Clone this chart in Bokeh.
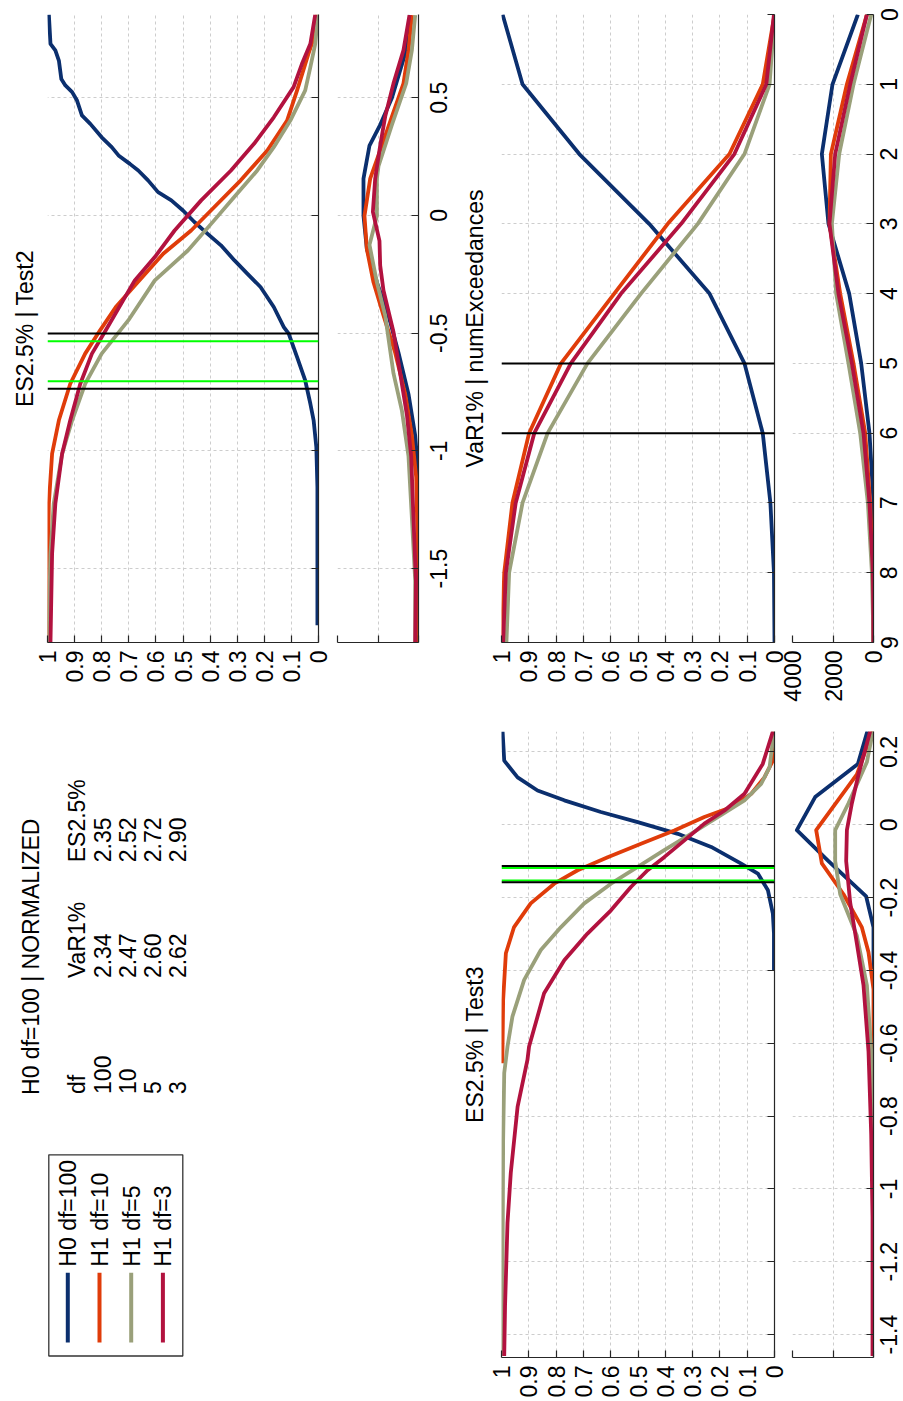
import math
from bokeh.plotting import figure
from bokeh.layouts import row, column
from bokeh.models import Range1d, FixedTicker, CustomJSTickFormatter, Span
from bokeh.embed import file_html
from bokeh.resources import INLINE
from bokeh.core.properties import value

FONT = "Liberation Sans"
FS = "23px"
AX = "#262626"
GRID = "#cdcdcd"
COLORS = ["#0b2f6e", "#e03c0a", "#9aa07a", "#b2123f"]
NAMES = ["H0 df=100", "H1 df=10", "H1 df=5", "H1 df=3"]

PROB_TICKS = [0, 0.1, 0.2, 0.3, 0.4, 0.5, 0.6, 0.7, 0.8, 0.9, 1]
CNT_TICKS = [0, 2000, 4000]
T2_TICKS = [-1.5, -1, -0.5, 0, 0.5]
VAR_TICKS = [0, 1, 2, 3, 4, 5, 6, 7, 8, 9]
T3_TICKS = [-1.4, -1.2, -1, -0.8, -0.6, -0.4, -0.2, 0, 0.2]

# ---------------- ES2.5% | Test2 : empirical CDF ----------------
T2_H0_STAT = [0.853, 0.729, 0.701, 0.658, 0.580, 0.552, 0.524, 0.488, 0.425, 0.389, 0.332, 0.290, 0.255, 0.219, 0.191, 0.149, 0.099, 0.064, 0.021, -0.028, -0.078, -0.127, -0.191, -0.248, -0.304, -0.389, -0.474, -0.502, -0.602, -0.701, -0.800, -0.870, -0.984, -1.154, -1.741]
T2_H0_PROB = [0.995, 0.989, 0.971, 0.958, 0.949, 0.934, 0.909, 0.891, 0.873, 0.842, 0.800, 0.763, 0.738, 0.696, 0.665, 0.629, 0.592, 0.543, 0.500, 0.458, 0.409, 0.360, 0.310, 0.262, 0.214, 0.165, 0.128, 0.110, 0.079, 0.049, 0.030, 0.018, 0.008, 0.004, 0.004]
T2_D10_STAT = [0.853, 0.771, 0.687, 0.531, 0.403, 0.276, 0.149, 0.021, -0.064, -0.163, -0.290, -0.389, -0.488, -0.587, -0.715, -0.870, -1.012, -1.224, -1.436, -1.814]
T2_D10_PROB = [0.006, 0.012, 0.037, 0.079, 0.116, 0.189, 0.287, 0.397, 0.470, 0.573, 0.672, 0.748, 0.806, 0.861, 0.916, 0.958, 0.983, 0.995, 0.998, 0.999]
T2_D5_STAT = [0.853, 0.729, 0.630, 0.531, 0.403, 0.290, 0.191, 0.078, -0.021, -0.149, -0.276, -0.446, -0.587, -0.715, -0.870, -1.012, -1.224, -1.436, -1.814]
T2_D5_PROB = [0.002, 0.012, 0.030, 0.049, 0.104, 0.165, 0.226, 0.311, 0.385, 0.482, 0.604, 0.702, 0.800, 0.861, 0.909, 0.946, 0.977, 0.989, 0.997]
T2_D3_STAT = [0.853, 0.729, 0.644, 0.545, 0.417, 0.304, 0.191, 0.064, -0.064, -0.177, -0.276, -0.488, -0.587, -0.715, -0.870, -1.012, -1.224, -1.436, -1.814]
T2_D3_PROB = [0.012, 0.030, 0.061, 0.092, 0.165, 0.238, 0.323, 0.433, 0.531, 0.604, 0.678, 0.785, 0.836, 0.879, 0.916, 0.946, 0.971, 0.983, 0.989]
T2_GREEN = [-0.534, -0.704]
T2_BLACK = [-0.502, -0.736]

# ---------------- ES2.5% | Test2 : histogram ----------------
T2H_H0_STAT = [0.851, 0.702, 0.499, 0.385, 0.297, 0.156, -0.002, -0.143, -0.284, -0.425, -0.583, -0.759, -0.935, -1.058, -1.199]
T2H_H0_CNT = [410, 608, 1314, 1892, 2420, 2717, 2717, 2550, 2055, 1482, 988, 494, 163, 50, 0]
T2H_D10_STAT = [0.851, 0.702, 0.561, 0.420, 0.297, 0.156, -0.002, -0.143, -0.284, -0.425, -0.583, -0.759, -0.935, -1.111, -1.375, -1.639, -1.814]
T2H_D10_CNT = [326, 494, 741, 1314, 1808, 2386, 2668, 2550, 2223, 1729, 1151, 657, 326, 114, 49, 49, 49]
T2H_D5_STAT = [0.851, 0.702, 0.561, 0.385, 0.209, 0.156, -0.002, -0.125, -0.284, -0.425, -0.671, -0.829, -1.023, -1.287, -1.551, -1.814]
T2H_D5_CNT = [163, 326, 608, 1314, 1976, 2055, 2055, 2420, 2055, 1645, 1235, 820, 494, 326, 163, 163]
T2H_D3_STAT = [0.851, 0.702, 0.561, 0.420, 0.297, 0.156, 0.015, -0.108, -0.213, -0.319, -0.495, -0.671, -0.847, -1.023, -1.287, -1.551, -1.814]
T2H_D3_CNT = [445, 741, 1235, 1645, 1892, 2139, 2253, 1927, 1892, 1729, 1235, 904, 573, 361, 247, 128, 163]

# ---------------- VaR1% | numExceedances ----------------
VAR_N = [0, 1, 2, 3, 4, 5, 6, 7, 8, 9]
VAR_H0_PROB = [0.996, 0.923, 0.715, 0.459, 0.238, 0.110, 0.043, 0.015, 0.002, 0.0]
VAR_D10_PROB = [0.0, 0.043, 0.165, 0.391, 0.587, 0.782, 0.899, 0.960, 0.990, 0.999]
VAR_D5_PROB = [0.0, 0.018, 0.110, 0.281, 0.489, 0.685, 0.831, 0.923, 0.972, 0.982]
VAR_D3_PROB = [0.002, 0.030, 0.147, 0.342, 0.562, 0.746, 0.880, 0.948, 0.984, 0.994]
VAR_H0_CNT = [772, 2025, 2550, 2223, 1200, 608, 198, 0, 0, 0]
VAR_D10_CNT = [326, 1314, 2104, 2174, 1645, 988, 410, 163, 30, 0]
VAR_D5_CNT = [114, 988, 1694, 2055, 1843, 1235, 657, 277, 79, 0]
VAR_D3_CNT = [326, 1151, 1892, 2174, 1729, 1067, 494, 198, 30, 0]
VAR_BLACK = [5, 6]

# ---------------- ES2.5% | Test3 : empirical CDF ----------------
T3_H0_STAT = [0.256, 0.176, 0.130, 0.094, 0.067, 0.035, 0.007, -0.025, -0.061, -0.107, -0.134, -0.180, -0.244, -0.299, -0.399]
T3_H0_PROB = [0.996, 0.990, 0.941, 0.868, 0.770, 0.636, 0.501, 0.354, 0.232, 0.122, 0.061, 0.024, 0.006, 0.002, 0.002]
T3_D10_STAT = [0.256, 0.176, 0.130, 0.085, 0.048, 0.021, -0.016, -0.052, -0.089, -0.125, -0.162, -0.216, -0.281, -0.353, -0.481, -0.655]
T3_D10_PROB = [0.000, 0.006, 0.037, 0.085, 0.159, 0.257, 0.367, 0.489, 0.611, 0.721, 0.807, 0.893, 0.954, 0.984, 0.994, 0.997]
T3_D5_STAT = [0.256, 0.158, 0.112, 0.067, 0.021, -0.025, -0.070, -0.116, -0.162, -0.216, -0.281, -0.344, -0.426, -0.527, -0.609, -0.682, -0.865, -1.230, -1.459]
T3_D5_PROB = [0.002, 0.018, 0.049, 0.110, 0.208, 0.306, 0.404, 0.501, 0.599, 0.697, 0.782, 0.856, 0.917, 0.960, 0.978, 0.990, 0.994, 0.996, 0.998]
T3_D3_STAT = [0.256, 0.167, 0.085, 0.039, 0.003, -0.043, -0.089, -0.125, -0.171, -0.235, -0.299, -0.372, -0.463, -0.609, -0.646, -0.774, -0.956, -1.093, -1.322, -1.459]
T3_D3_PROB = [0.006, 0.043, 0.110, 0.183, 0.257, 0.330, 0.404, 0.465, 0.526, 0.599, 0.685, 0.770, 0.844, 0.899, 0.905, 0.941, 0.966, 0.978, 0.987, 0.990]
T3_GREEN = [-0.119, -0.153]
T3_BLACK = [-0.113, -0.158]

# ---------------- ES2.5% | Test3 : histogram ----------------
T3H_H0_STAT = [0.257, 0.167, 0.076, -0.015, -0.100, -0.197, -0.282, -0.396]
T3H_H0_CNT = [300, 772, 2882, 3785, 2223, 361, 0, 0]
T3H_D10_STAT = [0.257, 0.138, -0.015, -0.106, -0.191, -0.282, -0.350, -0.452, -0.655]
T3H_D10_CNT = [49, 820, 2831, 2550, 1482, 573, 247, 0, 0]
T3H_D5_STAT = [0.257, 0.172, 0.059, -0.015, -0.100, -0.191, -0.305, -0.441, -0.622, -0.793, -0.963, -1.459]
T3H_D5_CNT = [30, 326, 1235, 1892, 1892, 1645, 820, 326, 114, 30, 0, 0]
T3H_D3_STAT = [0.257, 0.138, 0.059, -0.015, -0.100, -0.214, -0.327, -0.441, -0.622, -0.850, -1.077, -1.459]
T3H_D3_CNT = [163, 741, 1067, 1314, 1349, 1151, 820, 494, 247, 114, 49, 49]

# ---------------- summary table ----------------
SUMMARY_TITLE = "H0 df=100 | NORMALIZED"
TABLE_HEADER = ["df", "VaR1%", "ES2.5%"]
TABLE_DF = ["100", "10", "5", "3"]
TABLE_VAR = ["2.34", "2.47", "2.60", "2.62"]
TABLE_ES = ["2.35", "2.52", "2.72", "2.90"]

FMT = "var v = Math.round(tick*1000)/1000; if (v === 0) { v = 0; } return v.toString();"
BLANK = "return '';"

# layout (screen pixels)
H1, H2 = 720, 680
R1_TOP, R1_BOT = 14, 78
R2_TOP, R2_BOT = 11, 42
LW = 3.8


def style_axis(ax, ticks, show, orient, standoff):
    ax.ticker = FixedTicker(ticks=ticks)
    ax.formatter = CustomJSTickFormatter(code=FMT if show else BLANK)
    ax.axis_line_color = AX
    ax.axis_line_width = 1.2
    ax.major_tick_line_color = AX
    ax.major_tick_line_width = 1.2
    ax.major_tick_in = 7
    ax.major_tick_out = 0
    ax.minor_tick_line_color = None
    ax.major_label_text_font = FONT
    ax.major_label_text_font_size = FS
    ax.major_label_text_color = "black"
    ax.major_label_standoff = standoff
    if orient is not None:
        ax.major_label_orientation = orient


def base_fig(width, height, xr, yr, bl, br, bt, bb, title=None, tstand=10,
             xloc="below", yloc="right", overlap=0):
    kw = dict(width=width, height=height, x_range=xr, y_range=yr,
              x_axis_location=xloc, y_axis_location=yloc,
              output_backend="svg", toolbar_location=None,
              min_border_left=bl, min_border_right=br,
              min_border_top=bt, min_border_bottom=bb)
    if title:
        kw.update(title=title, title_location="left")
    else:
        kw.update(title_location=None)
    p = figure(**kw)
    p.outline_line_color = None
    p.background_fill_color = "white"
    p.border_fill_color = "white"
    for g in list(p.xgrid) + list(p.ygrid):
        g.grid_line_color = GRID
        g.grid_line_dash = "3 3"
        g.grid_line_width = 1
    if title:
        p.title.text_font = FONT
        p.title.text_font_size = FS
        p.title.text_font_style = "normal"
        p.title.text_color = "black"
        p.title.align = "center"
        p.title.standoff = tstand
    if overlap:
        # transparent border so the neighbour underneath stays visible
        p.border_fill_color = None
        p.margin = (0, 0, 0, -overlap)
    return p


def add_lines(p, xs_list, ys_list):
    for xs, ys, c in zip(xs_list, ys_list, COLORS):
        p.line(x=xs, y=ys, line_color=c, line_width=LW, line_join="round")


def add_spans(p, greens, blacks):
    for s in greens:
        p.add_layout(Span(location=s, dimension="width", line_color="#00ff00", line_width=2))
    for s in blacks:
        p.add_layout(Span(location=s, dimension="width", line_color="black", line_width=2))


def main_panel(title, yr, yticks, width, height, bl, br, bt, bb, tstand, lstand, overlap=0):
    p = base_fig(width, height, Range1d(1, 0), yr, bl, br, bt, bb, title, tstand, overlap=overlap)
    style_axis(p.xaxis[0], PROB_TICKS, True, math.pi / 2, lstand)
    style_axis(p.yaxis[0], yticks, False, None, 0)
    return p


def hist_panel(yr, yticks, width, height, bl, br, bt, bb, xlabels, overlap=0):
    p = base_fig(width, height, Range1d(4000, 0), yr, bl, br, bt, bb, overlap=overlap)
    style_axis(p.xaxis[0], CNT_TICKS, xlabels, math.pi / 2 if xlabels else None, 8)
    style_axis(p.yaxis[0], yticks, False, None, 0)
    return p


def label_panel(yr, yticks, width, height, bl, bt, bb, standoff, overlap=0):
    # narrow strip that carries the rotated value labels of the histogram axis
    p = base_fig(width, height, Range1d(0, 1), yr, bl, 0, bt, bb, xloc=None, yloc="left",
                 overlap=overlap)
    p.grid.visible = False
    ax = p.yaxis[0]
    style_axis(ax, yticks, True, "parallel", standoff)
    ax.axis_line_color = None
    ax.major_tick_line_color = None
    if overlap:
        p.background_fill_color = None
    return p


# Test2 (row 1, left)
t2_yr = Range1d(-1.814, 0.8535)
t2_main = main_panel("ES2.5% | Test2", t2_yr, T2_TICKS, 331, H1, 45, 13, R1_TOP, R1_BOT, 19, 8)
add_lines(t2_main, [T2_H0_PROB, T2_D10_PROB, T2_D5_PROB, T2_D3_PROB],
          [T2_H0_STAT, T2_D10_STAT, T2_D5_STAT, T2_D3_STAT])
add_spans(t2_main, T2_GREEN, T2_BLACK)
t2_hist = hist_panel(t2_yr, T2_TICKS, 89, H1, 6, 2, R1_TOP, R1_BOT, False)
add_lines(t2_hist, [T2H_H0_CNT, T2H_D10_CNT, T2H_D5_CNT, T2H_D3_CNT],
          [T2H_H0_STAT, T2H_D10_STAT, T2H_D5_STAT, T2H_D3_STAT])
t2_lab = label_panel(t2_yr, T2_TICKS, 33, H1, 32, R1_TOP, R1_BOT, 5)

# VaR (row 1, right)
var_yr = Range1d(9, 0)
var_main = main_panel("VaR1% | numExceedances", var_yr, VAR_TICKS, 342, H1, 56, 13, R1_TOP, R1_BOT, 27, 8, overlap=8)
add_lines(var_main, [VAR_H0_PROB, VAR_D10_PROB, VAR_D5_PROB, VAR_D3_PROB], [VAR_N] * 4)
add_spans(var_main, [], VAR_BLACK)
var_hist = hist_panel(var_yr, VAR_TICKS, 107, H1, 13, 13, R1_TOP, R1_BOT, True, overlap=8)
add_lines(var_hist, [VAR_H0_CNT, VAR_D10_CNT, VAR_D5_CNT, VAR_D3_CNT], [VAR_N] * 4)
var_lab = label_panel(var_yr, VAR_TICKS, 32, H1, 31, R1_TOP, R1_BOT, 5, overlap=15)

# Test3 (row 2, right)
t3_yr = Range1d(-1.463, 0.256)
t3_main = main_panel("ES2.5% | Test3", t3_yr, T3_TICKS, 342, H2, 56, 13, R2_TOP, R2_BOT, 27, 8, overlap=8)
add_lines(t3_main, [T3_H0_PROB, T3_D10_PROB, T3_D5_PROB, T3_D3_PROB],
          [T3_H0_STAT, T3_D10_STAT, T3_D5_STAT, T3_D3_STAT])
add_spans(t3_main, T3_GREEN, T3_BLACK)
t3_hist = hist_panel(t3_yr, T3_TICKS, 107, H2, 13, 13, R2_TOP, R2_BOT, False, overlap=8)
add_lines(t3_hist, [T3H_H0_CNT, T3H_D10_CNT, T3H_D5_CNT, T3H_D3_CNT],
          [T3H_H0_STAT, T3H_D10_STAT, T3H_D5_STAT, T3H_D3_STAT])
t3_lab = label_panel(t3_yr, T3_TICKS, 32, H2, 31, R2_TOP, R2_BOT, 5, overlap=15)

# Summary text + legend (data coordinates = screen pixels of this row)
TXT_W = 453
frame_top = H1 + R2_TOP
frame_bot = H1 + H2 - R2_BOT
txt = figure(width=TXT_W, height=H2, x_range=Range1d(0, TXT_W), y_range=Range1d(frame_bot, frame_top),
             x_axis_location=None, y_axis_location=None, title_location=None,
             output_backend="svg", toolbar_location=None,
             min_border_left=0, min_border_right=0, min_border_top=R2_TOP, min_border_bottom=R2_BOT)
txt.outline_line_color = None
txt.grid.visible = False

TXT_KW = dict(angle=math.pi / 2, text_font=value(FONT), text_font_size=value(FS),
              text_color="black", text_align="left", text_baseline="middle")
ROW_X = [76.8, 102, 127, 152, 177.3]
COL_Y = [1094, 978, 862]
txt.text(x=[30.8], y=[1095], text=[SUMMARY_TITLE], **TXT_KW)
cols = [[TABLE_HEADER[0]] + TABLE_DF, [TABLE_HEADER[1]] + TABLE_VAR, [TABLE_HEADER[2]] + TABLE_ES]
for cy, col in zip(COL_Y, cols):
    txt.text(x=ROW_X, y=[cy] * len(col), text=col, **TXT_KW)

LEG_L, LEG_R, LEG_T, LEG_B = 48.3, 182.3, 1155, 1356.5
txt.quad(left=[LEG_L], right=[LEG_R], top=[LEG_T], bottom=[LEG_B],
         fill_color="white", line_color="#333333", line_width=1.3)
leg_x = [67.3 + 31.7 * i for i in range(len(NAMES))]
txt.segment(x0=leg_x, x1=leg_x, y0=[1273] * 4, y1=[1343] * 4, line_color=COLORS, line_width=4)
txt.text(x=[v + 0.4 for v in leg_x], y=[1267] * 4, text=NAMES, **TXT_KW)

layout = column(row(t2_main, t2_hist, t2_lab, var_main, var_hist, var_lab),
                row(txt, t3_main, t3_hist, t3_lab))

open("out.html", "w").write(file_html(layout, INLINE))
